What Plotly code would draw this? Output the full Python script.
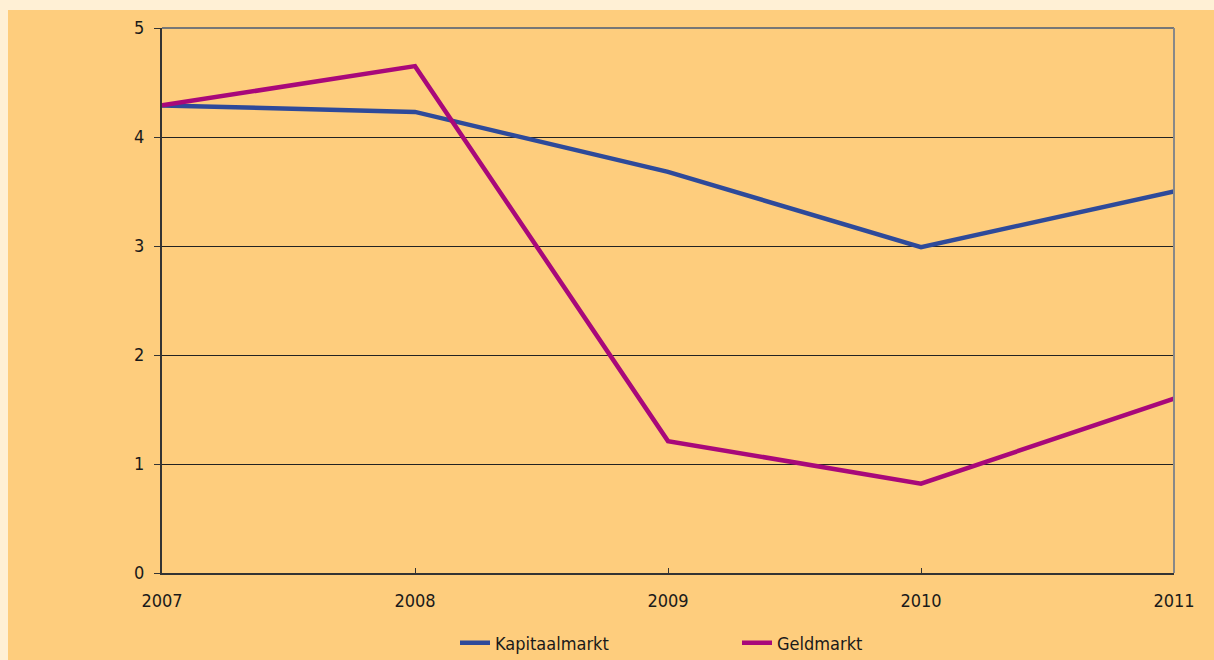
import plotly.graph_objects as go

years = [2007, 2008, 2009, 2010, 2011]
kapitaalmarkt = [4.29, 4.23, 3.68, 2.99, 3.50]
geldmarkt = [4.29, 4.65, 1.21, 0.82, 1.60]
y_ticks = [0, 1, 2, 3, 4, 5]

FONT = "Liberation Sans Narrow, DejaVu Sans Condensed, Liberation Sans, sans-serif"
ORANGE = "#FECD7D"
CREAM = "#FFF0D5"

fig = go.Figure()
fig.add_trace(go.Scatter(x=years, y=kapitaalmarkt, mode="lines", name="Kapitaalmarkt",
                         line=dict(color="#2E4A9A", width=4.5)))
fig.add_trace(go.Scatter(x=years, y=geldmarkt, mode="lines", name="Geldmarkt",
                         line=dict(color="#A8087A", width=4.5)))

L, R, T, B = 162, 40, 28, 87
W, H = 1214, 660
pw, ph = W - L - R, H - T - B

def px(x):
    return (x - L) / pw

def py(y):
    return (H - B - y) / ph

fig.update_layout(
    width=W, height=H,
    margin=dict(l=L, r=R, t=T, b=B, autoexpand=False),
    paper_bgcolor=CREAM,
    plot_bgcolor=ORANGE,
    font=dict(family=FONT, size=18, color="#1a1a1a"),
    showlegend=True,
    legend=dict(orientation="h", xref="container", yref="container",
                x=455 / W, y=(H - 643) / H, xanchor="left", yanchor="middle",
                bgcolor="rgba(0,0,0,0)", entrywidth=237, entrywidthmode="pixels",
                font=dict(family=FONT, size=18)),
    shapes=[
        dict(type="rect", xref="paper", yref="paper", x0=px(8), x1=px(W + 5), y0=py(10), y1=py(H + 5),
             fillcolor=ORANGE, line=dict(width=0), layer="below"),
        dict(type="line", xref="paper", yref="paper", x0=0, x1=1, y0=1, y1=1,
             line=dict(color="#777777", width=2)),
        dict(type="line", xref="paper", yref="paper", x0=1, x1=1, y0=0, y1=1,
             line=dict(color="#888888", width=2)),
    ],
)

fig.update_xaxes(
    range=[2007, 2011], tickvals=years, ticktext=[str(y) for y in years],
    showgrid=False, zeroline=False,
    showline=True, linecolor="#333333", linewidth=2,
    ticks="inside", ticklen=5, tickcolor="#333333", tickwidth=1,
    tickfont=dict(family=FONT, size=18), ticklabelstandoff=10,
)
fig.update_yaxes(
    range=[0, 5], tickvals=y_ticks,
    showgrid=True, gridcolor="#222222", gridwidth=1, zeroline=False,
    showline=True, linecolor="#333333", linewidth=2,
    ticks="outside", ticklen=6, tickcolor="#333333", tickwidth=1,
    tickfont=dict(family=FONT, size=18), ticklabelstandoff=6,
)

fig.write_html(
    "out.html",
    config={"displayModeBar": False},
    post_script="document.body.style.margin='0';document.body.style.background='#FFF0D5';",
)
